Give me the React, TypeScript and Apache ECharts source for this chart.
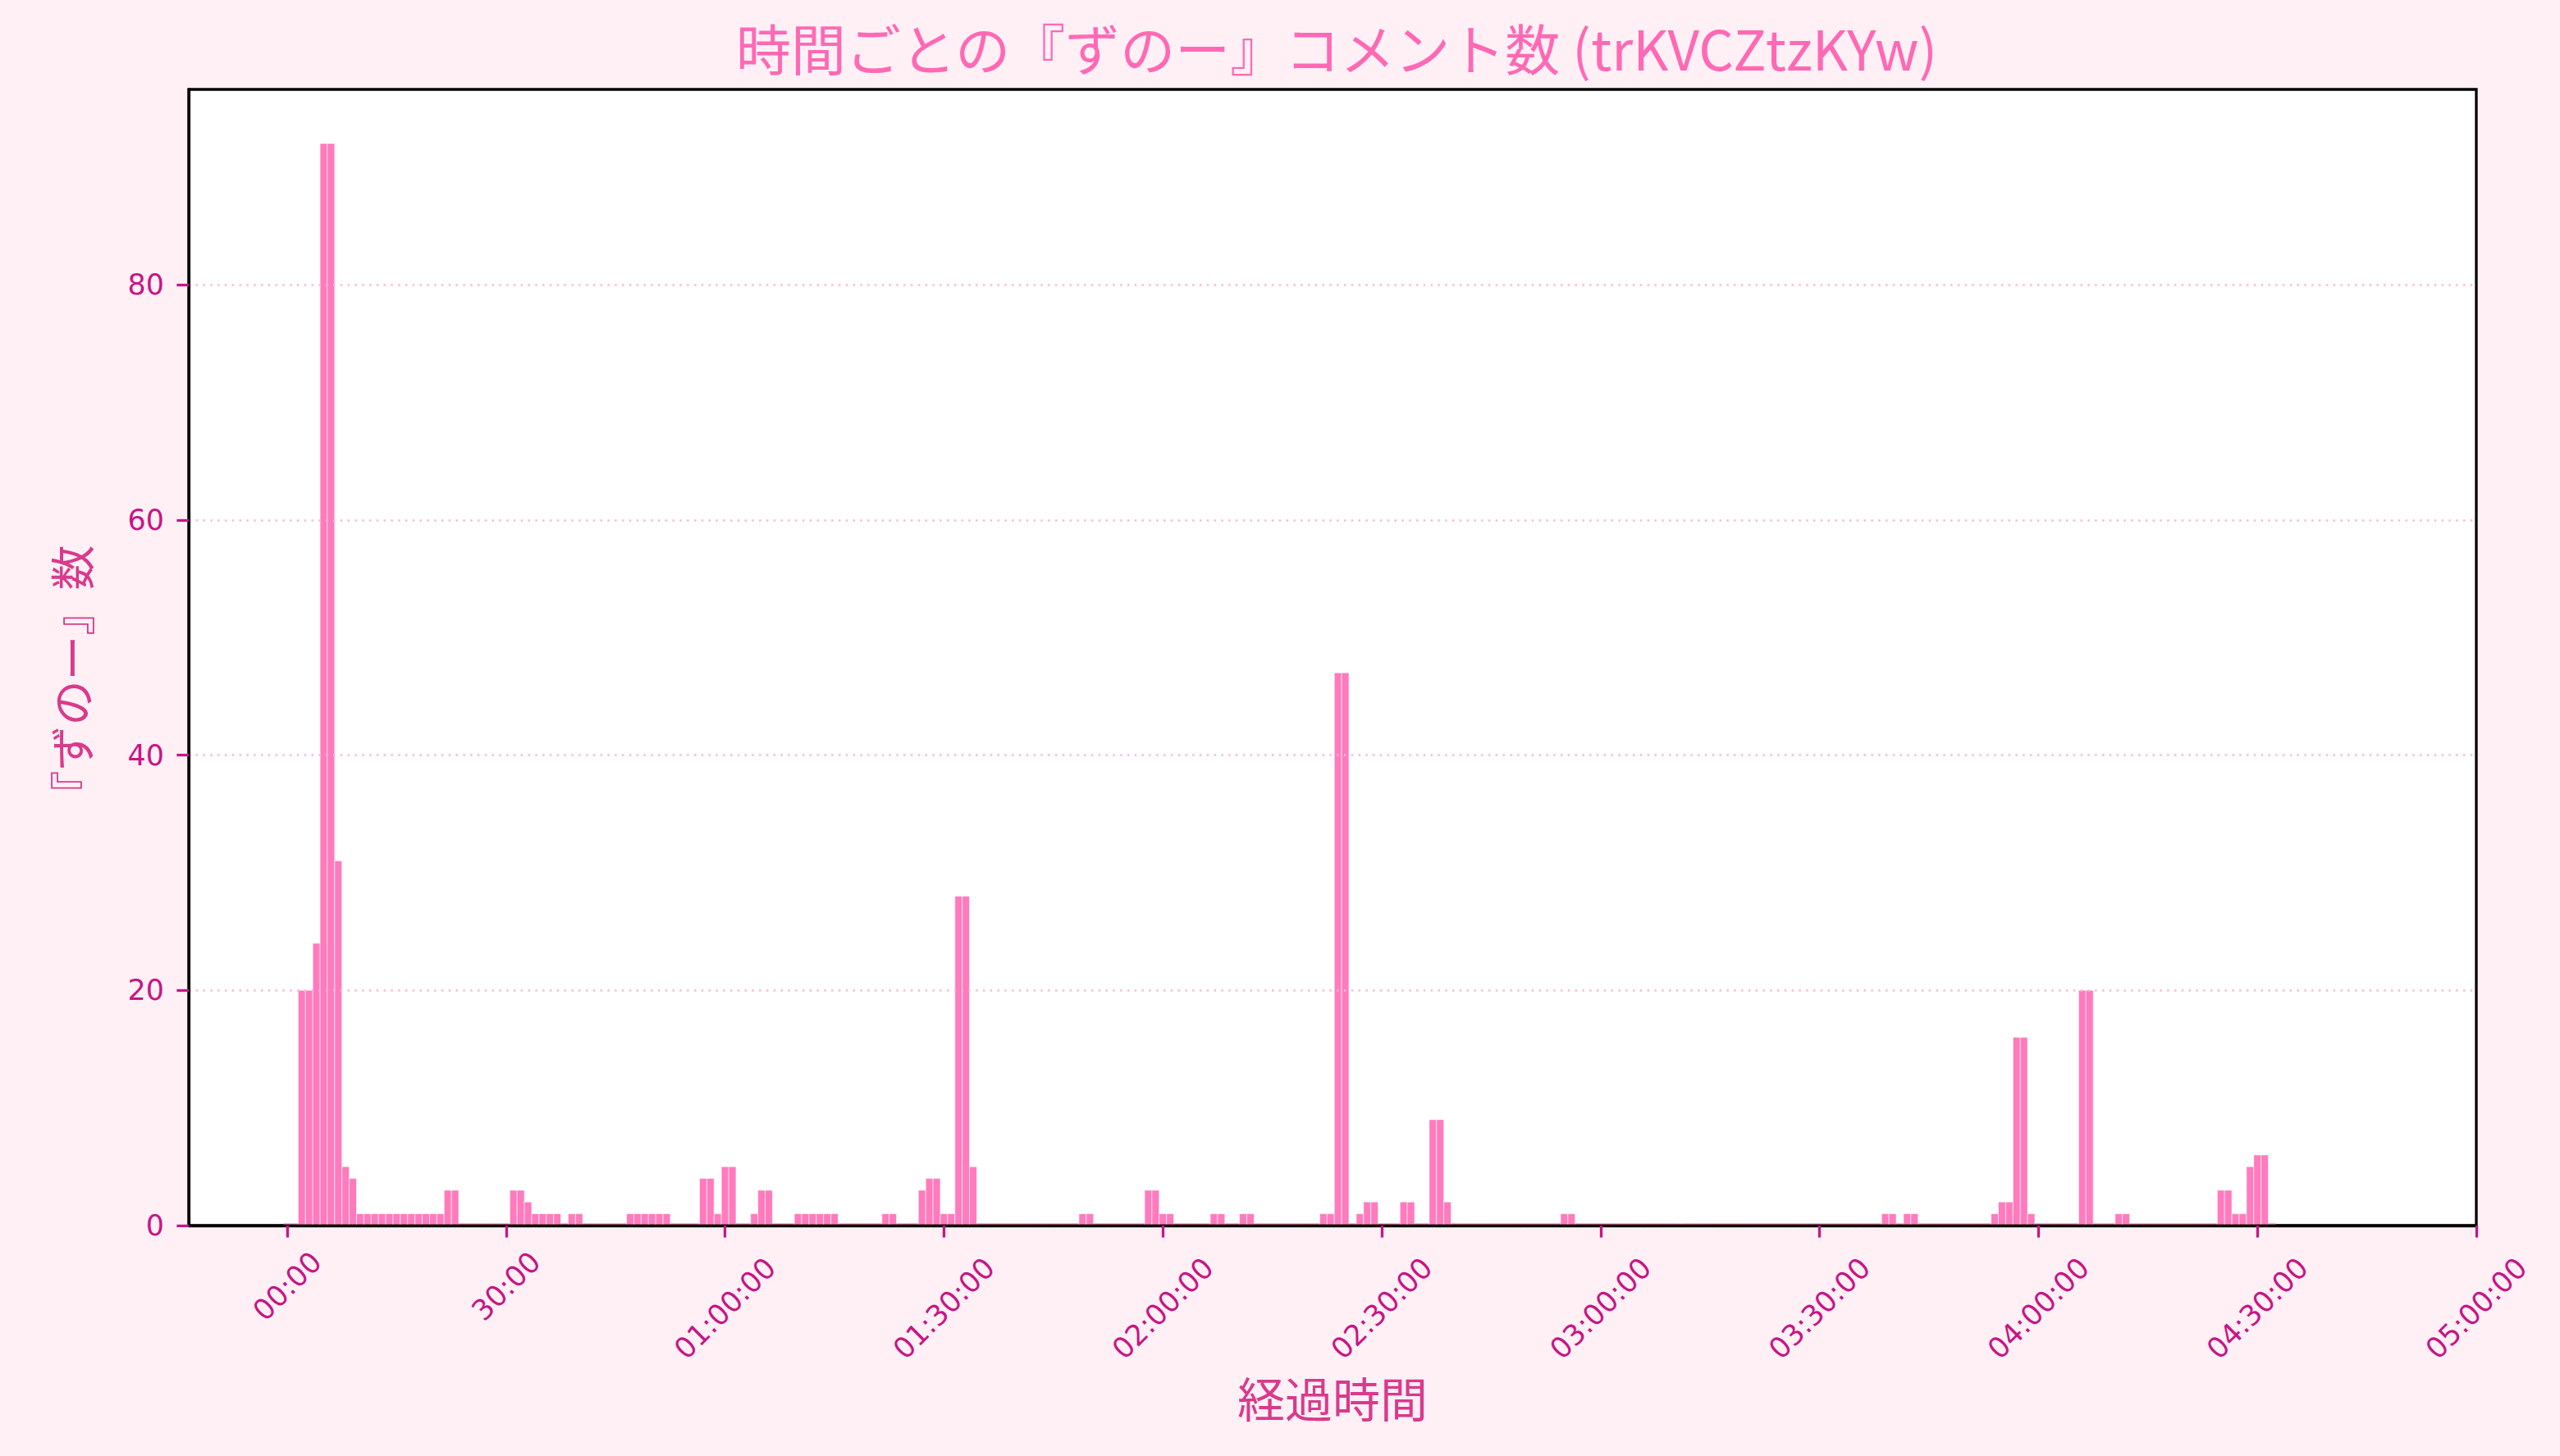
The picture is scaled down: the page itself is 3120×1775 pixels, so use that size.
import React, { useEffect, useRef } from 'react';
import * as echarts from 'echarts';

// ---- data (per-minute counts, minute index 0..272) ----
const BIN_SECONDS = 60;
const counts: number[] = [
  0, 0, 20, 20, 24, 92, 92, 31, 5, 4,
  1, 1, 1, 1, 1, 1, 1, 1, 1, 1,
  1, 1, 3, 3, 0, 0, 0, 0, 0, 0,
  0, 3, 3, 2, 1, 1, 1, 1, 0, 1,
  1, 0, 0, 0, 0, 0, 0, 1, 1, 1,
  1, 1, 1, 0, 0, 0, 0, 4, 4, 1,
  5, 5, 0, 0, 1, 3, 3, 0, 0, 0,
  1, 1, 1, 1, 1, 1, 0, 0, 0, 0,
  0, 0, 1, 1, 0, 0, 0, 3, 4, 4,
  1, 1, 28, 28, 5, 0, 0, 0, 0, 0,
  0, 0, 0, 0, 0, 0, 0, 0, 0, 1,
  1, 0, 0, 0, 0, 0, 0, 0, 3, 3,
  1, 1, 0, 0, 0, 0, 0, 1, 1, 0,
  0, 1, 1, 0, 0, 0, 0, 0, 0, 0,
  0, 0, 1, 1, 47, 47, 0, 1, 2, 2,
  0, 0, 0, 2, 2, 0, 0, 9, 9, 2,
  0, 0, 0, 0, 0, 0, 0, 0, 0, 0,
  0, 0, 0, 0, 0, 1, 1, 0, 0, 0,
  0, 0, 0, 0, 0, 0, 0, 0, 0, 0,
  0, 0, 0, 0, 0, 0, 0, 0, 0, 0,
  0, 0, 0, 0, 0, 0, 0, 0, 0, 0,
  0, 0, 0, 0, 0, 0, 0, 0, 0, 1,
  1, 0, 1, 1, 0, 0, 0, 0, 0, 0,
  0, 0, 0, 0, 1, 2, 2, 16, 16, 1,
  0, 0, 0, 0, 0, 0, 20, 20, 0, 0,
  0, 1, 1, 0, 0, 0, 0, 0, 0, 0,
  0, 0, 0, 0, 0, 3, 3, 1, 1, 5,
  6, 6, 0,
];

const xTickShort: number[] = [0, 1800];
const xTickLong: number[] = [3600, 5400, 7200, 9000, 10800, 12600, 14400, 16200, 18000];
const yTicks: number[] = [0, 20, 40, 60, 80];

const TITLE = '時間ごとの『ずのー』コメント数 (trKVCZtzKYw)';
const X_NAME = '経過時間';
const Y_NAME = '『ずのー』数';

const X_MIN = -810;
const X_MAX = 18000;
const Y_MAX = 96.6;

const MAGENTA = '#C71585';
const LABEL_PINK = '#D93A8C';
const TITLE_PINK = '#FF69B4';
const BAR_FILL = 'rgba(255,105,180,0.88)';

function fmtTime(s: number): string {
  const h = Math.floor(s / 3600);
  const m = Math.floor((s % 3600) / 60);
  const sec = Math.floor(s % 60);
  const p = (n: number) => String(n).padStart(2, '0');
  return h === 0 ? `${p(m)}:${p(sec)}` : `${p(h)}:${p(m)}:${p(sec)}`;
}

export default function App() {
  const ref = useRef<HTMLDivElement>(null);
  useEffect(() => {
    if (!ref.current) return;
    const chart = echarts.init(ref.current, undefined, { renderer: 'svg' });
    const data = counts.map((c, j) => [j * BIN_SECONDS, c]);
    const tickFont = { fontFamily: 'DejaVu Sans', fontSize: 35, color: MAGENTA };
    const xCommon = {
      type: 'value',
      min: X_MIN,
      max: X_MAX,
      position: 'bottom',
      splitLine: { show: false },
    };
    chart.setOption({
      animation: false,
      backgroundColor: '#FFF0F5',
      title: {
        text: TITLE,
        left: 1624,
        top: 18,
        textAlign: 'center',
        textStyle: {
          fontFamily: 'Noto Sans CJK JP',
          fontSize: 67,
          fontWeight: 'normal',
          color: TITLE_PINK,
        },
      },
      grid: {
        left: 230,
        right: 102,
        top: 109,
        bottom: 281,
        show: true,
        backgroundColor: '#FFFFFF',
        borderColor: '#000000',
        borderWidth: 3.3,
      },
      xAxis: [
        {
          ...xCommon,
          z: 5,
          axisLine: { show: true, onZero: false, lineStyle: { color: '#000', width: 3.3 } },
          axisTick: {
            show: true,
            length: 14.6,
            lineStyle: { color: MAGENTA, width: 3.3 },
            customValues: [...xTickShort, ...xTickLong],
          },
          axisLabel: {
            ...tickFont,
            customValues: xTickShort,
            rotate: 45,
            align: 'center',
            verticalAlign: 'middle',
            margin: 74,
            formatter: (v: number) => fmtTime(v),
          },
          name: X_NAME,
          nameLocation: 'middle',
          nameGap: 180,
          nameTextStyle: {
            fontFamily: 'Noto Sans CJK JP',
            fontSize: 58,
            color: LABEL_PINK,
          },
        },
        {
          ...xCommon,
          axisLine: { show: false },
          axisTick: { show: false },
          axisLabel: {
            ...tickFont,
            customValues: xTickLong,
            rotate: 45,
            align: 'center',
            verticalAlign: 'middle',
            margin: 101,
            formatter: (v: number) => fmtTime(v),
          },
        },
      ],
      yAxis: {
        type: 'value',
        min: 0,
        max: Y_MAX,
        interval: 20,
        z: 5,
        axisLine: { show: true, onZero: false, lineStyle: { color: '#000', width: 3.3 } },
        axisTick: {
          show: true,
          length: 14.6,
          lineStyle: { color: MAGENTA, width: 3.3 },
          customValues: yTicks,
        },
        axisLabel: {
          ...tickFont,
          customValues: yTicks,
          margin: 30,
        },
        splitLine: {
          show: true,
          lineStyle: { color: '#FFB6D4', width: 2.7, type: [2.4, 6.4] },
        },
        name: Y_NAME,
        nameLocation: 'middle',
        nameGap: 118,
        nameTextStyle: {
          fontFamily: 'Noto Sans CJK JP',
          fontSize: 55,
          color: LABEL_PINK,
          padding: [0, 56, 0, 0],
        },
      },
      series: [
        {
          type: 'custom',
          xAxisIndex: 0,
          yAxisIndex: 0,
          z: 2,
          clip: true,
          data,
          encode: { x: 0, y: 1 },
          renderItem: (_params: any, api: any) => {
            const t = api.value(0) as number;
            const v = api.value(1) as number;
            const tl = api.coord([t - BIN_SECONDS / 2, v]);
            const br = api.coord([t + BIN_SECONDS / 2, 0]);
            const w = br[0] - tl[0];
            if (v === 0) {
              return {
                type: 'rect',
                shape: { x: tl[0], y: br[1] - 2.6, width: w, height: 2.6 },
                style: { fill: BAR_FILL },
              };
            }
            return {
              type: 'rect',
              shape: { x: tl[0], y: tl[1], width: w, height: br[1] - tl[1] },
              style: {
                fill: BAR_FILL,
                stroke: 'rgba(255,255,255,0.6)',
                lineWidth: 1,
              },
            };
          },
        },
      ],
    });
    return () => chart.dispose();
  }, []);
  return (
    <div
      ref={ref}
      style={{ position: 'fixed', left: 0, top: 0, width: 3120, height: 1775 }}
    />
  );
}
